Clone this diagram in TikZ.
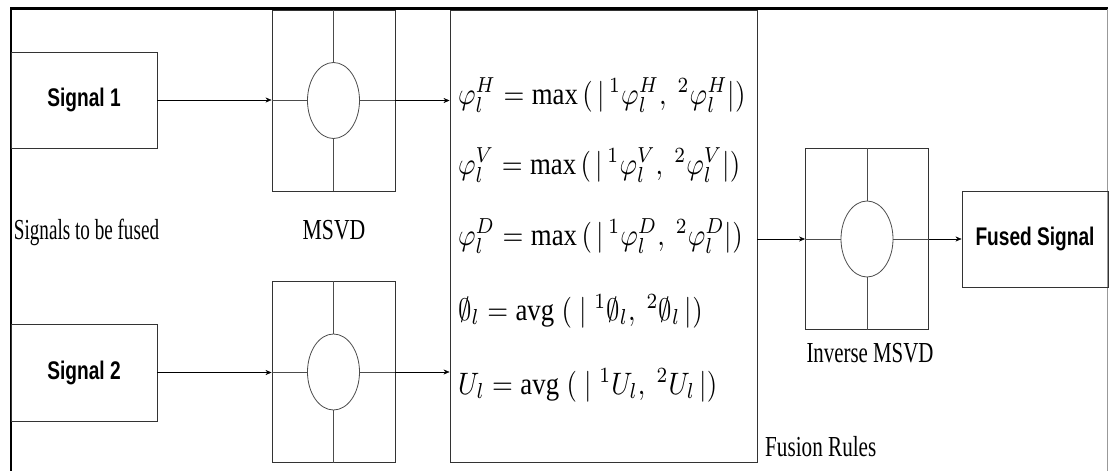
\documentclass[tikz,border=0pt]{standalone}
\usepackage{amsmath,amssymb}
\usepackage{fontspec}
\setmainfont{Liberation Serif}
\setsansfont{Liberation Sans}
\usepackage{tikz}
\usetikzlibrary{arrows.meta,positioning,shapes.geometric}
\newcommand{\hsq}[2][.72]{\scalebox{#1}[1]{#2}}
\newcommand{\eqsq}[1]{\scalebox{2.68}[3.1]{#1}}

\begin{document}
\begin{tikzpicture}[x=1pt,y=-1pt,>={Stealth[length=6pt,width=5pt]},
  box/.style={draw=black!80,line width=.9pt,inner sep=0pt},
  sigtext/.style={font=\sffamily\bfseries\fontsize{25.5}{28}\selectfont},
  captext/.style={font=\fontsize{29}{32}\selectfont,anchor=base,inner sep=0pt},
  eqtext/.style={font=\fontsize{10}{12}\selectfont,anchor=base west,inner sep=0pt},
  ring/.style={draw=black!70,line width=.8pt,ellipse,minimum width=52,minimum height=76,inner sep=0pt}]
\useasboundingbox (0,0) rectangle (1109,471);
% frame
\draw[line width=2.4pt] (11,471) -- (11,8.5) -- (1107.5,8.5);
\draw[black!40,line width=.9pt] (1107.5,8.5) -- (1107.5,471);
% inputs
\node[box,sigtext,minimum width=146,minimum height=96] (sigA) at (84,100) {\hsq[.75]{Signal 1}};
\node[box,sigtext,minimum width=146,minimum height=97] (sigB) at (84,372.5) {\hsq[.75]{Signal 2}};
\node[captext] (lblin) at (86.5,239) {\hsq[.66]{Signals to be fused}};
% msvd blocks
\foreach \n/\x/\y in {msvdA/333.5/100.5,msvdB/333.5/372,imsvd/867/239}{
  \node[box,minimum width=123,minimum height=181] (\n) at (\x,\y) {};
  \node[ring] (\n-c) at (\n) {};
  \draw[black!70,line width=.8pt] (\n.north) -- (\n-c.north) (\n-c.south) -- (\n.south)
    (\n.west) -- (\n-c.west) (\n-c.east) -- (\n.east);
}
\node[captext] (lblmsvd) at (334,239) {\hsq[.75]{MSVD}};
\node[captext] (lblinv) at (870,362) {\hsq{Inverse MSVD}};
% fusion rules
\node[box,minimum width=307,minimum height=452] (rules) at (603.5,236) {};
\node[eqtext] (eqH) at (458,104) {\eqsq{$\varphi_l^H = \max\,(\,\vert\,{}^1\varphi_l^H,\ {}^2\varphi_l^H\vert)$}};
\node[eqtext] (eqV) at (458,174) {\eqsq{$\varphi_l^V = \max\,(\,\vert\,{}^1\varphi_l^V,\ {}^2\varphi_l^V\vert)$}};
\node[eqtext] (eqD) at (458,245) {\eqsq{$\varphi_l^D = \max\,(\,\vert\,{}^1\varphi_l^D,\ {}^2\varphi_l^D\vert)$}};
\node[eqtext] (eqS) at (458,320) {\eqsq{$\emptyset_l = \mathrm{avg}\;(\;\vert\;{}^1\emptyset_l,\ {}^2\emptyset_l\,\vert)$}};
\node[eqtext] (eqU) at (458,394) {\eqsq{$U_l = \mathrm{avg}\;(\;\vert\;{}^1U_l,\ {}^2U_l\,\vert)$}};
\node[captext,anchor=base west] (lblrules) at (765,456) {\hsq[.73]{Fusion Rules}};
% output
\node[box,sigtext,minimum width=146,minimum height=96] (fused) at (1035,239) {\hsq[.75]{Fused Signal}};
% connectors
\draw[->] (sigA.east) -- (sigA.east -| msvdA.west);
\draw[->] (sigB.east) -- (sigB.east -| msvdB.west);
\draw[->] (msvdA.east) -- (msvdA.east -| rules.west);
\draw[->] (msvdB.east) -- (msvdB.east -| rules.west);
\draw[->] (imsvd.west -| rules.east) -- (imsvd.west);
\draw[->] (imsvd.east) -- (fused.west);
\end{tikzpicture}
\end{document}
